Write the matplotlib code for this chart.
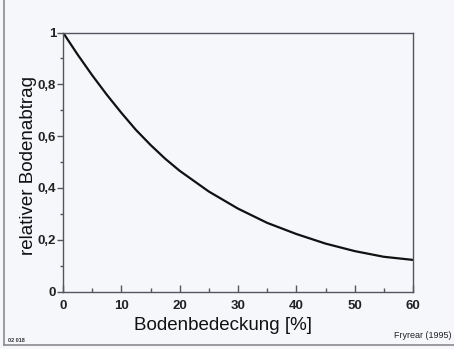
import matplotlib.pyplot as plt
from matplotlib.ticker import MultipleLocator, FuncFormatter

# Bodenbedeckung [%] und relativer Bodenabtrag
bedeckung = [0, 2.5, 5, 7.5, 10, 12.5, 15, 17.5, 20, 25, 30, 35, 40, 45, 50, 55, 60]
abtrag = [1.0, 0.915, 0.835, 0.76, 0.69, 0.624, 0.566, 0.513, 0.466, 0.386, 0.32,
          0.265, 0.222, 0.185, 0.156, 0.134, 0.122]

x_ticks = [0, 10, 20, 30, 40, 50, 60]
y_ticks = [0, 0.2, 0.4, 0.6, 0.8, 1.0]

plt.rcParams['font.family'] = ['Liberation Sans', 'DejaVu Sans']

bg = '#f6f7fb'
fig = plt.figure(figsize=(4.54, 3.49), dpi=100, facecolor=bg)
W, H = 454, 349
ax = fig.add_axes([63 / W, 1 - 291.5 / H, 350 / W, 259 / H])
ax.set_facecolor(bg)

ax.plot(bedeckung, abtrag, color='#111111', lw=1.6, solid_capstyle='round')

ax.set_xlim(0, 60)
ax.set_ylim(0, 1)
ax.set_xticks(x_ticks)
ax.set_yticks(y_ticks)
ax.xaxis.set_minor_locator(MultipleLocator(5))
ax.yaxis.set_minor_locator(MultipleLocator(0.1))
ax.yaxis.set_major_formatter(FuncFormatter(
    lambda v, p: '0' if v == 0 else ('1' if v == 1 else f'{v:.1f}'.replace('.', ','))))

for s in ax.spines.values():
    s.set_color('#555560')
    s.set_linewidth(1.0)
ax.tick_params(axis='x', direction='in', length=5, width=1, color='#555560',
               labelsize=9.5, pad=6)
ax.tick_params(axis='x', which='minor', direction='in', length=3, width=1, color='#555560')
ax.tick_params(axis='y', direction='out', length=4, width=1, color='#555560',
               labelsize=9.5, pad=1)
ax.tick_params(axis='y', which='minor', direction='out', length=2, width=1, color='#555560')
for lab in ax.get_xticklabels() + ax.get_yticklabels():
    lab.set_fontweight('bold')
    lab.set_color('#222222')

fig.text(223 / W, 1 - 326 / H, 'Bodenbedeckung [%]', fontsize=13.5,
         ha='center', va='center', color='#111111')
fig.text(29 / W, 1 - 166 / H, 'relativer Bodenabtrag', fontsize=13.5,
         rotation=90, ha='center', va='center', color='#111111')
fig.text(452 / W, 1 - 336 / H, 'Fryrear (1995)', fontsize=6.5,
         ha='right', va='center', color='#222222')

# Rahmen des Scans
fig.add_artist(plt.Line2D([3.5 / W, 3.5 / W], [1 - 345 / H, 1], transform=fig.transFigure,
                          color='#8a8a90', lw=1.2))
fig.add_artist(plt.Line2D([3.5 / W, 1], [1 - 345 / H, 1 - 345 / H], transform=fig.transFigure,
                          color='#8a8a90', lw=1.2))
fig.text(8 / W, 1 - 340 / H, '02 018', fontsize=4, fontweight='bold',
         ha='left', va='center', color='#333333')

fig.savefig('out.png', dpi=100, facecolor=bg)
